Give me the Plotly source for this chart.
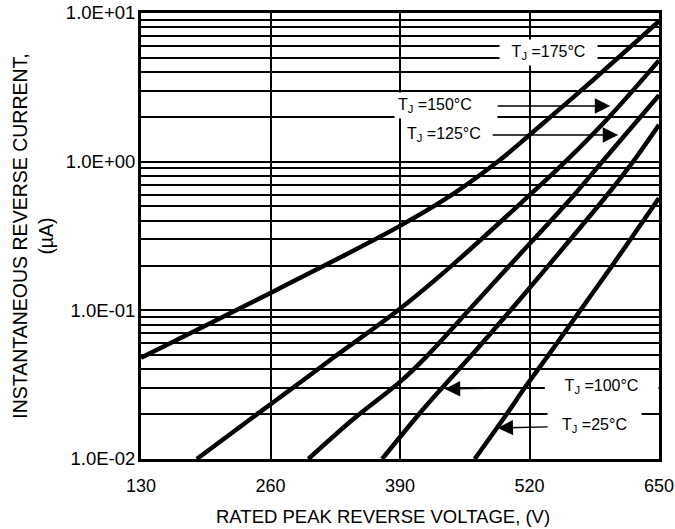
import plotly.graph_objects as go

# ---- data ----
v_175 = [130, 195, 260, 325, 390, 440, 487, 520, 585, 650]
i_175 = [0.048, 0.079, 0.131, 0.218, 0.37, 0.586, 0.986, 1.51, 3.6, 8.8]

v_150 = [186, 240, 280, 323, 388, 442, 517, 556, 600, 650]
i_150 = [0.01, 0.0186, 0.0293, 0.048, 0.1, 0.2, 0.57, 1.0, 2.0, 4.8]

v_125 = [298, 345, 390, 418, 459, 500, 565, 593, 650]
i_125 = [0.01, 0.019, 0.033, 0.05, 0.1, 0.2, 0.6, 1.0, 2.8]

v_100 = [372, 409, 434, 462, 501, 539, 600, 624, 650]
i_100 = [0.01, 0.02, 0.031, 0.05, 0.1, 0.2, 0.62, 1.0, 1.77]

v_25 = [465, 497, 515, 539, 571, 603, 650]
i_25 = [0.01, 0.02, 0.03, 0.05, 0.1, 0.2, 0.57]

x_ticks = [130, 260, 390, 520, 650]
y_ticks = [0.01, 0.1, 1, 10]
y_ticktext = ["1.0E-02", "1.0E-01", "1.0E+00", "1.0E+01"]
y_minor = [m * d for d in (0.01, 0.1, 1) for m in range(2, 10)]

series = [(v_175, i_175), (v_150, i_150), (v_125, i_125), (v_100, i_100), (v_25, i_25)]

FONT = "Liberation Sans, Arial, sans-serif"
TXT = dict(family=FONT, size=16, color="black")

fig = go.Figure()
for xs, ys in series:
    fig.add_trace(go.Scatter(x=xs, y=ys, mode="lines",
                             line=dict(color="black", width=4.5, shape="spline", smoothing=1.0),
                             showlegend=False, hoverinfo="skip"))

# label without arrow (175 °C)
fig.add_annotation(x=539, y=0.731, xref="x", yref="y", text="T<sub>J</sub> =175°C",
                   showarrow=False, bgcolor="white", borderpad=3, width=91,
                   align="center", font=TXT)

# labels with arrows: (text, tip x, tip log10 y, ax, ay, box width, align)
arrow_labels = [
    ("T<sub>J</sub> =150°C", 601, 0.3746, -164, 0, 96, "left"),
    ("T<sub>J</sub> =125°C", 609, 0.1796, -170, 0, 82, "left"),
    ("T<sub>J</sub> =100°C", 435, -1.5286, 157, -2, 107, "center"),
    ("T<sub>J</sub> =25°C", 488, -1.791, 97, -2, 87, "center"),
]
for txt, tx, ty, axo, ayo, w, al in arrow_labels:
    fig.add_annotation(x=tx, y=ty, xref="x", yref="y", text=txt, showarrow=True,
                       ax=axo, ay=ayo, arrowhead=2, arrowsize=2.2, arrowwidth=1.4,
                       arrowcolor="black", standoff=0, bgcolor="white", borderpad=3,
                       width=w, align=al, font=TXT)

# x-axis title (slightly left of centre, as in the reference)
fig.add_annotation(x=0.467, y=-0.130, xref="paper", yref="paper",
                   text="RATED PEAK REVERSE VOLTAGE, (V)", showarrow=False,
                   xanchor="center", yanchor="middle",
                   font=dict(family=FONT, size=18.5, color="black"))

fig.update_xaxes(range=[130, 650], tickvals=x_ticks, showgrid=True, gridcolor="black",
                 gridwidth=2, showline=True, linecolor="black", linewidth=3, mirror=True,
                 zeroline=False, ticks="", ticklabelstandoff=8, automargin=False,
                 tickfont=dict(family=FONT, size=18, color="black"))
fig.update_yaxes(type="log", range=[-2, 1], tickvals=y_ticks, ticktext=y_ticktext,
                 showgrid=True, gridcolor="black", gridwidth=2,
                 minor=dict(tickvals=y_minor, showgrid=True, gridcolor="black", gridwidth=2, ticks=""),
                 showline=True, linecolor="black", linewidth=3, mirror=True,
                 zeroline=False, ticks="", ticklabelstandoff=-1, automargin=False,
                 tickfont=dict(family=FONT, size=18.5, color="black"),
                 title=dict(text="INSTANTANEOUS REVERSE CURRENT,<br>(µA)", standoff=8,
                            font=dict(family=FONT, size=19.5, color="black")))

fig.update_layout(width=675, height=529, margin=dict(l=141, r=16, t=13, b=70),
                  plot_bgcolor="white", paper_bgcolor="white", showlegend=False)

fig.write_html("out.html", config={"displayModeBar": False},
               post_script="document.body.style.margin='0';document.body.style.padding='0';"
                           "document.body.style.overflow='hidden';")
